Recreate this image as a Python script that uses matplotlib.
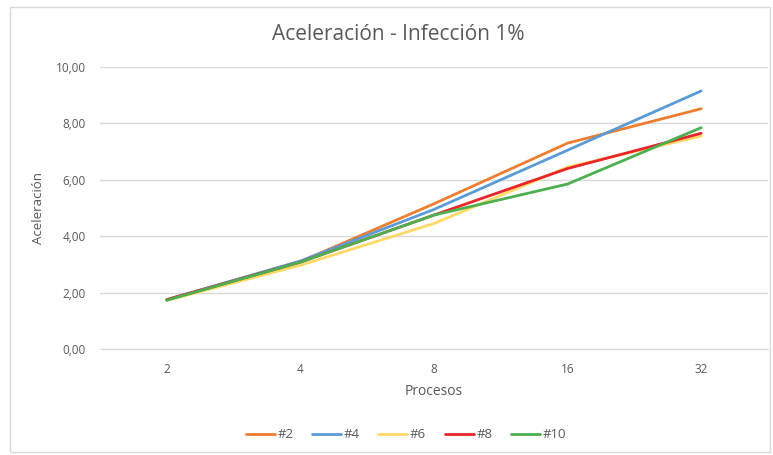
import matplotlib.pyplot as plt
from matplotlib.patches import Rectangle

procesos = ['2', '4', '8', '16', '32']
s2 = [1.75, 3.10, 5.15, 7.30, 8.52]
s4 = [1.75, 3.12, 4.95, 7.05, 9.15]
s6 = [1.72, 2.97, 4.45, 6.45, 7.55]
s8 = [1.75, 3.08, 4.75, 6.40, 7.65]
s10 = [1.73, 3.08, 4.75, 5.85, 7.85]

series = [('#2', s2, '#ED7D31'), ('#4', s4, '#5B9BD5'), ('#6', s6, '#FFD966'),
          ('#8', s8, '#E8262A'), ('#10', s10, '#4CAF50')]

plt.rcParams['font.family'] = ['Open Sans', 'DejaVu Sans']
txt = '#595959'

fig = plt.figure(figsize=(7.73, 4.55), dpi=100)
fig.patches.append(Rectangle((10/773, 3/455), 760/773, 445/455, transform=fig.transFigure,
                             fill=False, edgecolor='#D9D9D9', linewidth=1))
ax = fig.add_axes([100/773, 1 - 349/455, 668/773, 282/455])

xs = range(len(procesos))
for name, vals, col in series:
    ax.plot(xs, vals, color=col, linewidth=2.0, label=name, solid_capstyle='round')

ax.set_xlim(-0.5, len(procesos) - 0.5)
ax.set_ylim(0, 10)
ax.set_yticks([0, 2, 4, 6, 8, 10])
ax.set_yticklabels(['0,00', '2,00', '4,00', '6,00', '8,00', '10,00'])
ax.set_xticks(list(xs))
ax.set_xticklabels(procesos)
ax.tick_params(length=0, colors=txt, labelsize=8.5, pad=10)
ax.grid(axis='y', color='#D9D9D9', linewidth=1)
ax.set_axisbelow(True)
for s in ['top', 'right', 'left']:
    ax.spines[s].set_visible(False)
ax.spines['bottom'].set_color('#D9D9D9')

ax.set_xlabel('Procesos', color=txt, fontsize=10, labelpad=6)
ax.set_ylabel('Aceleración', color=txt, fontsize=9.5, labelpad=8)
fig.text(398/773, 1 - 35/455, 'Aceleración - Infección 1%', ha='center', va='center',
         color=txt, fontsize=15)

fig.legend(loc='center', bbox_to_anchor=(406/773, 1 - 435/455), ncol=5, frameon=False,
           fontsize=9.5, labelcolor=txt, handlelength=2.2, handletextpad=0.2, columnspacing=1.4)

fig.savefig('out.png', dpi=100)
